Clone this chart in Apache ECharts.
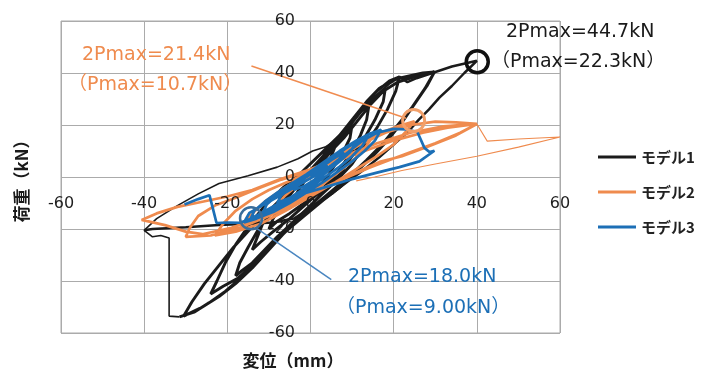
<!DOCTYPE html>
<html>
<head>
<meta charset="utf-8">
<script src="https://cdn.jsdelivr.net/npm/echarts@6/dist/echarts.min.js"></script>
<style>
  html, body { margin: 0; padding: 0; background: #fff; }
  #chart { width: 702px; height: 373px; }
</style>
</head>
<body>
<div id="chart"></div>
<script>
// displacement (mm), load (kN), in loading order
const model1Data = [
  [0, 0], [2, 4], [4, 8], [6, 12],
  [5, 8], [3, 2], [1, -3], [-2, -7], [-5, -12],
  [-4, -8], [-2, -3], [0, 2], [2, 6], [4, 10], [6, 13], [8, 16.5], [10, 20],
  [9.5, 15], [8, 10], [6, 5], [4, 0], [1.5, -5], [-1.5, -10], [-5, -14], [-8, -17], [-10, -20],
  [-9, -16], [-7, -11], [-4, -5], [-1, 0], [2, 5], [5, 11], [8, 16], [11, 21], [14, 27],
  [13.5, 22], [12, 16], [10, 10], [7.5, 4], [5, -1], [2, -6], [-1.5, -11], [-5, -16], [-9, -21], [-12, -25], [-14, -28],
  [-13, -24], [-11.5, -18], [-8, -11], [-4, -5], [-0.5, 1], [3, 7], [6, 13], [9, 19], [12, 25], [15, 30], [18, 34],
  [17.5, 29], [15.5, 22], [13, 15], [10, 8], [7, 1], [3.5, -5], [0, -11], [-4, -17], [-8, -23], [-11, -28], [-14, -33], [-16.5, -36], [-18, -38],
  [-17, -33], [-15, -27], [-12.5, -20], [-9, -13], [-5, -6], [-1, 1], [3, 8], [6.5, 15], [10, 22], [13, 28], [16, 33], [19, 37], [21.4, 38.5],
  [20.5, 33], [18.5, 26], [16, 19], [13, 12], [10, 5], [6.5, -1], [2.5, -7], [-2, -14], [-6.5, -21], [-10.5, -28], [-14, -34], [-17.5, -39], [-21, -42], [-24, -45],
  [-22.5, -40], [-20.5, -33], [-18, -26], [-15, -19], [-11, -11], [-6.5, -4], [-2, 2], [2.5, 9], [7, 16], [10.5, 23], [13.5, 29], [16.5, 34], [20, 37.5], [24, 39], [27, 40], [29.8, 40.4],
  [28, 35], [25, 28], [22, 21], [18.5, 14], [15, 8], [11, 2], [7, -4], [3, -9], [-1.5, -15], [-6, -21], [-10, -28], [-14, -35], [-18, -41], [-22, -46], [-26, -50], [-30.5, -53.5],
  [-28.5, -48], [-25.5, -41], [-22, -34], [-18.5, -27], [-14.5, -20], [-10, -13], [-5.5, -6], [-1, 0.5], [3.5, 7.5], [8, 15], [11.5, 22], [14.5, 28], [17.5, 33], [21, 36.5], [25, 38.5], [29.8, 40.4],
  [27.5, 34], [24.5, 27], [21, 20], [17.5, 13], [13.5, 6.5], [9.5, 0.5], [5, -5.5], [0.5, -11.5], [-4, -18], [-8.5, -25], [-12.5, -32], [-16.5, -38.5], [-20.5, -44], [-24.5, -48.5], [-28, -52], [-31.5, -53.8]
];

// model 1: load drop at -34 mm and the thin return branch
const model1DropData = [
  [-31.5, -53.8], [-34, -53.5], [-34, -23.5], [-36, -22.5], [-38, -23], [-40, -20.5],
  [-37, -16], [-32, -11], [-27, -6.5], [-22, -2.5], [-15, 0.5], [-8, 3.8], [-3, 7], [0.5, 10], [3.5, 11.5], [6.5, 14.5]
];

// model 1: last push to 2Pmax and unloading
const model1FinalData = [
  [6.5, 14.5], [9, 19], [11.5, 24], [14, 28.5], [17, 33], [19, 36], [21.4, 38.5], [23.3, 36.5], [25.5, 38], [29.3, 40], [34, 42.5], [40, 44.7],
  [37, 40], [34, 35], [31, 30.5], [28.5, 26], [26, 22], [23.8, 18], [20, 12.5], [16.6, 7.7], [13, 3], [9.4, -1.2], [5.5, -6], [1, -11], [-4, -16], [-9, -17.5], [-15, -18], [-22, -18.5], [-30, -19.3], [-38, -20], [-40, -20.5]
];

const model2Data = [
  [0, 0], [3, 4.5], [6, 8], [8, 10],
  [6, 6], [3, 1.5], [0, -3], [-4, -7.5], [-8, -10.5],
  [-6, -7], [-3, -3], [0, 0.5], [4, 5], [8, 9.5], [12, 13], [15, 15.5],
  [13, 11], [10, 6], [6, 1], [2, -4], [-3, -9], [-8, -13.5], [-13, -16.5], [-16, -18],
  [-14, -14], [-11, -9.5], [-7, -5], [-3, -1], [2, 3.5], [7, 8.5], [12, 13], [17, 17], [21, 19.5], [25, 21.4],
  [23, 17.5], [20, 12.5], [16, 8], [11, 3], [6, -2], [0, -7.5], [-6, -13], [-12, -18], [-18, -21], [-23, -22.5],
  [-21, -18], [-18, -13], [-14, -8.5], [-10, -5], [-5, -1.5], [0, 2], [6, 7], [12, 12.5], [18, 17], [24, 20], [30, 21.3], [35, 21], [40, 20.4],
  [36, 17], [30, 13], [24, 9.5], [19, 6.5], [14, 3.5], [9, 0], [3, -4.5], [-3, -9.5], [-10, -15], [-17, -19.5], [-24, -22.5], [-30, -23],
  [-29, -19.5], [-27, -15], [-23, -11], [-18, -8], [-12, -4], [-7, -1], [-1, 2], [6, 6], [13, 10], [20, 14], [27, 17], [33, 19], [40, 20.4],
  [35, 16], [28, 11.5], [22, 8], [16.6, 5.8], [12, 2.5], [6, -2], [0, -6.5], [-6, -11], [-12, -15.5], [-19, -19.5], [-26, -22], [-30, -21], [-35, -18.5], [-40.6, -16.5],
  [-37, -14], [-32, -11.5], [-26, -9.5], [-20, -7.5], [-14, -5], [-7.5, -1], [0, 3], [8, 8], [16, 13], [24, 17], [32, 19.5], [40, 20.4]
];

// last excursion of model 2 (drawn thinner)
const model2TailData = [
  [40, 20.4], [42.5, 13.8], [50, 14.6], [60, 15.4], [50, 11.5], [40, 8], [30, 5], [22, 2.5], [15.4, 0], [11, -1.5]
];

const model3Data = [
  [0, 0], [2, 2.5], [4, 4.5],
  [3, 2], [1, -1], [-1.5, -3.5], [-4, -5],
  [-3, -2.5], [-1, 0], [2, 3], [5, 6.5], [8, 9.5],
  [6.5, 6], [4, 2.5], [1, -1.5], [-2, -5], [-5, -8], [-8, -10],
  [-7, -7], [-4.5, -4], [-1.5, -0.5], [2, 3.5], [5.5, 7.5], [8.5, 11], [11, 13.5],
  [9.5, 9.5], [7, 6], [4, 2], [1, -2], [-2.5, -6], [-6, -10], [-9, -12.5], [-11.5, -14],
  [-10.5, -10.5], [-8, -7], [-5, -3.5], [-1.5, 0], [2, 4], [6, 8.5], [10, 12.5], [14, 16],
  [12.5, 12], [10, 8], [7, 4], [3.5, 0], [0, -4], [-4, -8.5], [-8, -12], [-11.5, -14.5], [-14.5, -16.5],
  [-13.5, -13], [-11, -9.5], [-8, -6], [-4.5, -2.5], [-1, 1], [3, 5.5], [7, 10], [11, 14], [14, 16.5], [17, 18.2],
  [15.5, 14], [13, 10], [10, 6], [6.5, 2], [3, -2], [-1, -6], [-5, -10], [-9, -13.5], [-13, -16], [-16, -17.5],
  [-14.7, -13.8], [-10, -9.5], [-5, -5], [0, -0.5], [5, 4.5], [9, 9.5], [12.5, 14], [16, 17], [20, 18.5], [23, 18.3], [25.7, 17.3],
  [27.4, 11.2], [28.6, 9.6], [29.8, 10.1],
  [26.2, 6], [21.4, 3.8], [16, 1.7], [10, -0.8], [3.8, -3.8], [-2.6, -6.8], [-8, -10.5], [-12, -14], [-15, -16.5], [-17, -17.6], [-20, -17.5], [-22.6, -17.7], [-23.5, -12], [-24.3, -7], [-27, -8.5], [-30.3, -10.6]
];

// circled Pmax points and leader lines (data coords)
const pmaxPoint1 = [40.1, 44.3];
const pmaxPoint2 = [24.8, 21.7];
const pmaxPoint3 = [-14.3, -15.9];
const leader2 = [[-14.2, 42.7], [23, 22.6]];
const leader3 = [[-13.2, -19.5], [5, -39.5]];

const seriesNames = ['モデル1', 'モデル2', 'モデル3'];
const axisMin = -60;
const axisMax = 60;
const axisStep = 20;

const BLACK = '#1b1b1b';
const ORANGE = '#ef8b4e';
const BLUE = '#1c6fb6';
const TICK_FONT = 'DejaVu Sans';
const NOTE_FONT = '19px "DejaVu Sans", "Noto Sans CJK JP"';

function baseAxis(showGrid) {
  return {
    type: 'value',
    min: axisMin,
    max: axisMax,
    interval: axisStep,
    axisTick: { show: false },
    splitLine: { show: showGrid, lineStyle: { color: '#ababab', width: 1 } },
  };
}

function lineSeries(name, data, color, width, z) {
  return {
    name: name,
    type: 'line',
    data: data,
    symbol: 'none',
    showSymbol: false,
    lineStyle: { color: color, width: width },
    itemStyle: { color: color },
    z: z,
  };
}

function circleMark(point, color, width) {
  return {
    symbol: 'circle',
    symbolSize: 22,
    silent: true,
    label: { show: false },
    itemStyle: { color: 'rgba(0,0,0,0)', borderColor: color, borderWidth: width },
    data: [{ coord: point }],
  };
}

function leaderLine(pts, color) {
  return {
    symbol: ['none', 'none'],
    silent: true,
    animation: false,
    label: { show: false },
    lineStyle: { color: color, width: 1.5, type: 'solid' },
    data: [[{ coord: pts[0] }, { coord: pts[1] }]],
  };
}

function note(text, x, y, color) {
  return {
    type: 'text',
    x: x,
    y: y,
    z: 100,
    style: { text: text, fill: color, font: NOTE_FONT, align: 'left', verticalAlign: 'middle' },
  };
}

const chart = echarts.init(document.getElementById('chart'));

const black1 = lineSeries(seriesNames[0], model1Data, BLACK, 2.9, 2);
const black2 = lineSeries(seriesNames[0], model1DropData, BLACK, 1.6, 2);
const black3 = lineSeries(seriesNames[0], model1FinalData, BLACK, 2.5, 2);
black3.markPoint = circleMark(pmaxPoint1, '#111', 3.5);

const orange1 = lineSeries(seriesNames[1], model2Data, ORANGE, 2.7, 3);
orange1.markPoint = circleMark(pmaxPoint2, '#f2a06a', 3);
orange1.markLine = leaderLine(leader2, '#f08c50');
const orange2 = lineSeries(seriesNames[1], model2TailData, ORANGE, 1.1, 3);

const blue1 = lineSeries(seriesNames[2], model3Data, BLUE, 2.7, 4);
blue1.markPoint = circleMark(pmaxPoint3, '#3a6d9a', 2.5);
blue1.markLine = leaderLine(leader3, '#4a86c0');

chart.setOption({
  animation: false,
  grid: {
    left: 61,
    right: 142,
    top: 21,
    bottom: 40,
    show: true,
    borderColor: '#ababab',
    borderWidth: 1,
    containLabel: false,
    outerBoundsMode: 'none',
  },
  xAxis: [
    Object.assign(baseAxis(true), {
      axisLine: { show: false, onZero: false },
      axisLabel: { show: false },
    }),
    // labels only, shifted up onto the y = 0 line
    Object.assign(baseAxis(false), {
      position: 'bottom',
      offset: -156,
      z: 10,
      axisLine: { show: false, onZero: false },
      axisLabel: { margin: 19, fontSize: 16, color: '#1e1e1e', fontFamily: TICK_FONT },
    }),
  ],
  yAxis: [
    Object.assign(baseAxis(true), {
      axisLine: { show: false, onZero: false },
      axisLabel: { show: false },
    }),
    // labels only, shifted right onto the x = 0 line
    Object.assign(baseAxis(false), {
      position: 'left',
      offset: -250,
      z: 10,
      axisLine: { show: false, onZero: false },
      axisLabel: { margin: 16, fontSize: 16, color: '#1e1e1e', fontFamily: TICK_FONT },
    }),
  ],
  legend: {
    data: seriesNames,
    orient: 'vertical',
    left: 598,
    top: 149,
    padding: 0,
    icon: 'rect',
    itemWidth: 38,
    itemHeight: 3,
    itemGap: 19,
    textStyle: { fontSize: 15, lineHeight: 16, fontWeight: 'bold', color: '#222', fontFamily: 'Noto Sans CJK JP' },
  },
  series: [black1, black2, black3, orange1, orange2, blue1],
  graphic: [
    note('2Pmax=44.7kN', 506, 32, '#1a1a1a'),
    note('（Pmax=22.3kN）', 491, 62, '#1a1a1a'),
    note('2Pmax=21.4kN', 82, 55, ORANGE),
    note('（Pmax=10.7kN）', 68, 85, ORANGE),
    note('2Pmax=18.0kN', 348, 277, BLUE),
    note('（Pmax=9.00kN）', 336, 308, BLUE),
    {
      type: 'text',
      x: 293,
      y: 361,
      style: { text: '変位（mm）', fill: '#1a1a1a', font: 'bold 17px "Noto Sans CJK JP"', align: 'center', verticalAlign: 'middle' },
    },
    {
      type: 'text',
      x: 22,
      y: 177,
      rotation: Math.PI / 2,
      style: { text: '荷重（kN）', fill: '#1a1a1a', font: 'bold 17px "Noto Sans CJK JP"', align: 'center', verticalAlign: 'middle' },
    },
  ],
});
</script>
</body>
</html>
